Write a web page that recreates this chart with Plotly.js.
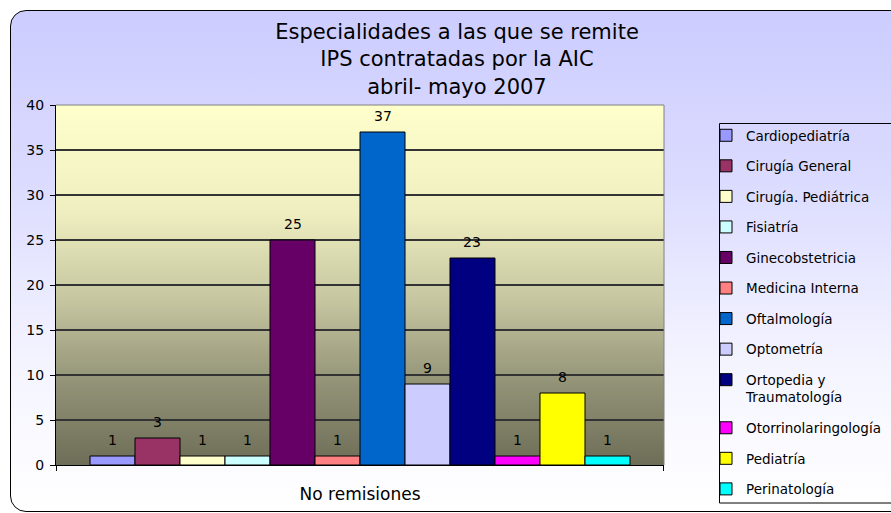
<!DOCTYPE html>
<html>
<head>
<meta charset="utf-8">
<script src="https://cdn.plot.ly/plotly-3.0.1.min.js"></script>
<style>
  html, body { margin: 0; padding: 0; background: #ffffff; }
  #wrap { position: relative; width: 891px; height: 513px; overflow: hidden; background: #ffffff; }
  #frame { position: absolute; left: 10px; top: 10px; width: 920px; height: 500px;
           border: 1.5px solid #000; border-radius: 16px;
           background: linear-gradient(to bottom, #CCCCFF 0%, #DCDCFF 35%, #F4F4FF 70%, #FFFFFF 100%); }
  #chart { position: absolute; left: 0; top: 0; width: 891px; height: 513px; }
</style>
</head>
<body>
<div id="wrap">
  <div id="frame"></div>
  <div id="chart"></div>
</div>
<script>
// ---- data ----
const categories = ['Cardiopediatría', 'Cirugía General', 'Cirugía. Pediátrica', 'Fisiatría',
  'Ginecobstetricia', 'Medicina Interna', 'Oftalmología', 'Optometría',
  'Ortopedia y<br>Traumatología', 'Otorrinolaringología', 'Pediatría', 'Perinatología'];
const values = [1, 3, 1, 1, 25, 1, 37, 9, 23, 1, 8, 1];
const colors = ['#9999FF', '#993366', '#FFFFCC', '#CCFFFF', '#660066', '#FF8080',
  '#0066CC', '#CCCCFF', '#000080', '#FF00FF', '#FFFF00', '#00FFFF'];
const yTickValues = [0, 5, 10, 15, 20, 25, 30, 35, 40];
const xCategoryLabel = 'No remisiones';
const titleLines = ['Especialidades a las que se remite', 'IPS contratadas por la AIC', 'abril- mayo 2007'];

// ---- chart ----
const FONT = 'DejaVu Sans, Verdana, sans-serif';
const n = categories.length;
const center = (n - 1) / 2;
const halfSpan = 6.756;
const xMin = center - halfSpan, xMax = center + halfSpan;

const traces = categories.map((c, i) => ({
  type: 'bar',
  name: c,
  legendgroup: 'g' + i,
  x: [i],
  y: [values[i]],
  width: [1],
  marker: { color: colors[i], line: { color: '#000000', width: 1 } },
  hoverinfo: 'name+y'
}));

const annotations = values.map((v, i) => ({
  x: i, y: v, xref: 'x', yref: 'y',
  text: String(v), showarrow: false, yshift: 16,
  font: { family: FONT, size: 14, color: '#000' }
}));

const gradSvg = '<svg xmlns="http://www.w3.org/2000/svg" width="100" height="100" preserveAspectRatio="none">' +
  '<defs><linearGradient id="g" x1="0" y1="0" x2="0" y2="1">' +
  '<stop offset="0" stop-color="#FFFFCC"/>' +
  '<stop offset="0.3" stop-color="#EEEEC0"/>' +
  '<stop offset="0.55" stop-color="#C4C49F"/>' +
  '<stop offset="0.78" stop-color="#919176"/>' +
  '<stop offset="1" stop-color="#6E6E58"/>' +
  '</linearGradient></defs><rect width="100" height="100" fill="url(#g)"/></svg>';

const PW = 608, PH = 360, PL = 56, PB = 465;
const layout = {
  width: 891, height: 513,
  paper_bgcolor: 'rgba(0,0,0,0)',
  plot_bgcolor: 'rgba(0,0,0,0)',
  margin: { l: 56, r: 227, t: 105, b: 48, autoexpand: false },
  font: { family: FONT, size: 13, color: '#000' },
  barmode: 'overlay',
  title: {
    text: titleLines.join('<br>'),
    font: { family: FONT, size: 21, color: '#000' },
    x: 457 / 891, xref: 'container', xanchor: 'center',
    y: 1 - 39 / 513, yref: 'container', yanchor: 'top'
  },
  xaxis: {
    range: [xMin, xMax],
    tickmode: 'array', tickvals: [center], ticktext: [xCategoryLabel],
    ticks: '', tickfont: { family: FONT, size: 17, color: '#000' },
    ticklabelstandoff: 14,
    showgrid: false, zeroline: false,
    showline: true, linecolor: '#000', linewidth: 1,
    minor: { tickvals: [xMin + 0.001, xMax - 0.001], ticks: 'outside', ticklen: 5, tickcolor: '#000', showgrid: false },
    fixedrange: true
  },
  yaxis: {
    range: [0, 40],
    tickmode: 'array', tickvals: yTickValues,
    ticks: 'outside', ticklen: 5, tickcolor: '#000', tickwidth: 1,
    tickfont: { family: FONT, size: 14, color: '#000' },
    ticklabelstandoff: 3,
    showgrid: true, gridcolor: '#333333', gridwidth: 1.2,
    zeroline: false,
    showline: true, linecolor: '#000', linewidth: 1,
    fixedrange: true
  },
  legend: {
    x: (706 - PL) / PW, xanchor: 'left', xref: 'paper',
    y: (PB - 120) / PH, yanchor: 'top', yref: 'paper',
    bgcolor: 'rgba(0,0,0,0)', borderwidth: 0,
    font: { family: FONT, size: 13.5, color: '#000' },
    tracegroupgap: 10, valign: 'top', traceorder: 'grouped',
    maxheight: 480
  },
  images: [{
    source: 'data:image/svg+xml;charset=utf-8,' + encodeURIComponent(gradSvg),
    xref: 'paper', yref: 'paper', x: 0, y: 1, sizex: 1, sizey: 1,
    xanchor: 'left', yanchor: 'top', sizing: 'stretch', layer: 'below'
  }],
  shapes: [
    { type: 'line', xref: 'paper', yref: 'paper', x0: 0, x1: 1, y0: 1, y1: 1, line: { color: '#808080', width: 1 } },
    { type: 'line', xref: 'paper', yref: 'paper', x0: 1, x1: 1, y0: 0, y1: 1, line: { color: '#808080', width: 1 } },
    { type: 'rect', xref: 'paper', yref: 'paper',
      x0: (719.5 - PL) / PW, x1: (900 - PL) / PW,
      y0: (PB - 503) / PH, y1: (PB - 123.5) / PH,
      line: { color: '#000', width: 1 }, fillcolor: 'rgba(0,0,0,0)' }
  ],
  annotations: annotations,
  showlegend: true
};

Plotly.newPlot('chart', traces, layout, { displayModeBar: false, staticPlot: true });
</script>
</body>
</html>
